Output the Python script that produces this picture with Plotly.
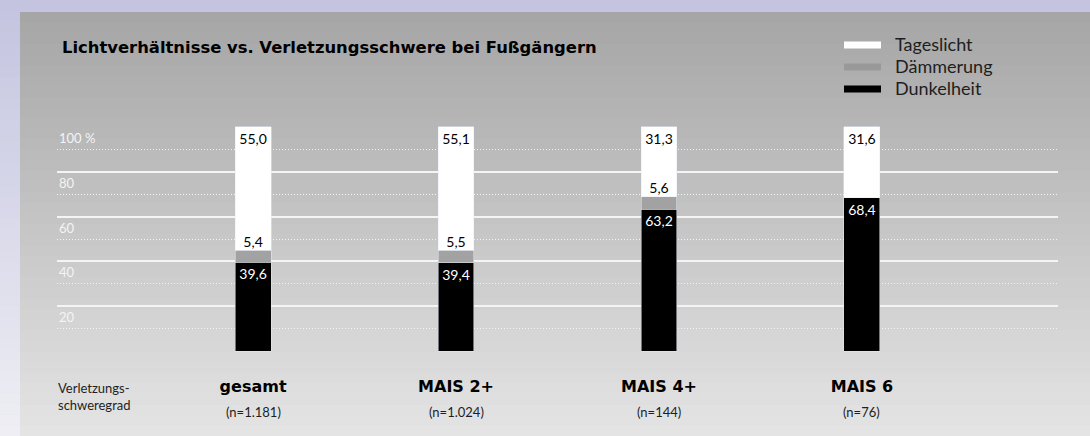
import plotly.graph_objects as go

# data (percent)
categories = ["gesamt", "MAIS 2+", "MAIS 4+", "MAIS 6"]
sample_sizes = ["(n=1.181)", "(n=1.024)", "(n=144)", "(n=76)"]
series_names = ["Dunkelheit", "Dämmerung", "Tageslicht"]
dunkelheit = [39.6, 39.4, 63.2, 68.4]
daemmerung = [5.4, 5.5, 5.6, 0.0]
tageslicht = [55.0, 55.1, 31.3, 31.6]
y_ticks = [20, 40, 60, 80, 100]
y_tick_labels = ["20", "40", "60", "80", "100 %"]

W, H = 1090, 436
L, R, T, B = 57, 32, 126, 84
C_DARK = "#000000"
C_DUSK = "#a2a2a2"
C_DAY = "#ffffff"
C_TEXT = "#1e1e1e"
FONT = "Lato"
FONT_BOLD = "DejaVu Sans"


def px(xp):
    return (xp - L) / (W - L - R)


def py(yp):
    return (H - B - yp) / (H - T - B)


def fmt(v):
    return f"{v:.1f}".replace(".", ",")


def mix(c0, c1, t):
    return "#" + "".join(f"{round(a + (b - a) * t):02x}" for a, b in zip(c0, c1))


fig = go.Figure()

fig.add_trace(go.Bar(
    x=categories, y=dunkelheit, name=series_names[0], marker_color=C_DARK,
    text=[fmt(v) for v in dunkelheit], textposition="inside",
    insidetextanchor="end", textangle=0,
    textfont=dict(family=FONT, size=14, color="#ffffff")))
fig.add_trace(go.Bar(
    x=categories, y=daemmerung, name=series_names[1], marker_color=C_DUSK))
fig.add_trace(go.Bar(
    x=categories, y=tageslicht, name=series_names[2], marker_color=C_DAY,
    text=[fmt(v) for v in tageslicht], textposition="inside",
    insidetextanchor="end", textangle=0,
    textfont=dict(family=FONT, size=14, color="#000000")))

# Dämmerung labels sit just above the grey segment
fig.add_trace(go.Scatter(
    x=categories, y=[a + b for a, b in zip(dunkelheit, daemmerung)],
    mode="text", text=[fmt(v) if v > 0 else "" for v in daemmerung],
    textposition="top center", hoverinfo="skip",
    textfont=dict(family=FONT, size=14, color="#000000")))

shapes = []
# lavender strip on the left, getting lighter downwards
n = 40
for i in range(n):
    y0, y1 = H * i / n, H * (i + 1) / n + 0.5
    shapes.append(dict(type="rect", xref="paper", yref="paper",
                       x0=px(0), x1=px(20), y0=py(y1), y1=py(y0),
                       fillcolor=mix((196, 196, 224), (238, 238, 244), i / (n - 1)),
                       line_width=0, layer="below"))
# grey panel with vertical gradient
top = 12
for i in range(n):
    y0 = top + (H - top) * i / n
    y1 = top + (H - top) * (i + 1) / n + 0.5
    shapes.append(dict(type="rect", xref="paper", yref="paper",
                       x0=px(20), x1=px(W), y0=py(y1), y1=py(y0),
                       fillcolor=mix((166, 166, 166), (228, 228, 228), i / (n - 1)),
                       line_width=0, layer="below"))

# hand drawn legend (wide flat swatches)
annotations = []
legend_items = [(series_names[2], C_DAY), (series_names[1], "#999999"),
                (series_names[0], C_DARK)]
for k, (name, col) in enumerate(legend_items):
    yc = 45 + 22 * k
    shapes.append(dict(type="rect", xref="paper", yref="paper",
                       x0=px(844), x1=px(881), y0=py(yc + 3.5), y1=py(yc - 3.5),
                       fillcolor=col, line_width=0))
    annotations.append(dict(text=name, xref="paper", yref="paper",
                            x=px(893), y=py(yc - 1), xanchor="left", yanchor="middle",
                            showarrow=False,
                            font=dict(family=FONT, size=18, color=C_TEXT)))

# y labels sit between the solid line and the dotted line below it
for v, lab in zip(y_ticks, y_tick_labels):
    annotations.append(dict(text=lab, xref="paper", yref="y", x=0.0, y=v,
                            yshift=-11, xanchor="left", yanchor="middle",
                            showarrow=False,
                            font=dict(family=FONT, size=13, color="#f4f4f4")))

for cat, ns in zip(categories, sample_sizes):
    annotations.append(dict(text=ns, xref="x", yref="paper", x=cat, y=py(412),
                            yanchor="middle", showarrow=False,
                            font=dict(family=FONT, size=13, color=C_TEXT)))

annotations.append(dict(text="Verletzungs-<br>schweregrad", xref="paper",
                        yref="paper", x=px(56), y=py(396), xanchor="left",
                        yanchor="middle", align="left", showarrow=False,
                        font=dict(family=FONT, size=13, color=C_TEXT)))
annotations.append(dict(text="<b>Lichtverhältnisse vs. Verletzungsschwere bei Fußgängern</b>",
                        xref="paper", yref="paper", x=px(60), y=py(47),
                        xanchor="left", yanchor="middle", showarrow=False,
                        font=dict(family=FONT_BOLD, size=16.4, color="#000000")))

fig.update_layout(
    width=W, height=H,
    margin=dict(l=L, r=R, t=T, b=B),
    paper_bgcolor="#c4c4e0", plot_bgcolor="rgba(0,0,0,0)",
    barmode="stack", bargap=0.823, showlegend=False,
    shapes=shapes, annotations=annotations,
    font=dict(family=FONT, color=C_TEXT),
)
fig.update_xaxes(
    range=[-0.966, 3.966], showgrid=False, zeroline=False, showline=False,
    ticks="outside", ticklen=20, tickcolor="rgba(0,0,0,0)",
    tickvals=categories, ticktext=[f"<b>{c}</b>" for c in categories],
    tickfont=dict(family=FONT_BOLD, size=16, color="#000000"))
fig.update_yaxes(
    range=[-0.4, 100.4], tickvals=[0] + y_ticks, showticklabels=False,
    showgrid=True, gridcolor="#f4f4f4", gridwidth=1.5, zeroline=False,
    minor=dict(tick0=10, dtick=20, showgrid=True, gridcolor="#f4f4f4",
               griddash="1px,2px", gridwidth=1))

# page body has an 8px default margin; drop it so the chart fills the window
fig.write_html("out.html", config={"displayModeBar": False},
               post_script="document.body.style.margin='0';")
